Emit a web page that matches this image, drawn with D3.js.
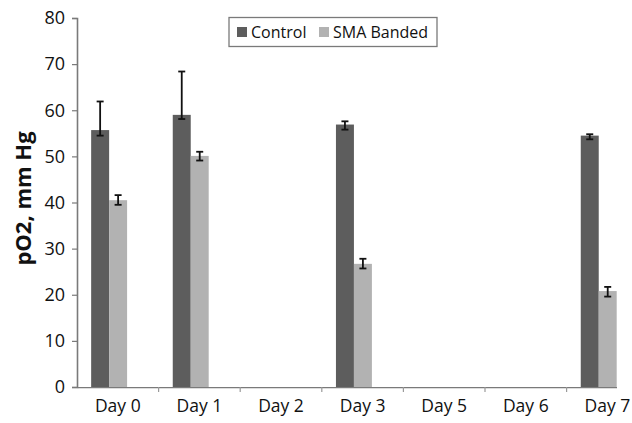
<!DOCTYPE html>
<html>
<head>
<meta charset="utf-8">
<script src="https://cdn.jsdelivr.net/npm/d3@7"></script>
<style>
  html, body { margin: 0; padding: 0; background: #fff; }
  svg { display: block; font-family: "Open Sans", sans-serif; }
</style>
</head>
<body>
<svg id="chart" width="632" height="423"></svg>
<script>
// Categories and series
const days = ["Day 0", "Day 1", "Day 2", "Day 3", "Day 5", "Day 6", "Day 7"];
const seriesNames = ["Control", "SMA Banded"];

// Mean pO2 (mm Hg); null where no measurement
const controlMean = [55.7, 59.0, null, 56.9, null, null, 54.5];
const smaMean     = [40.5, 50.1, null, 26.7, null, null, 20.8];

// Error bar ends (upper / lower)
const controlHigh = [61.9, 68.4, null, 57.6, null, null, 54.8];
const controlLow  = [54.5, 58.1, null, 55.8, null, null, 53.7];
const smaHigh     = [41.6, 51.0, null, 27.8, null, null, 21.7];
const smaLow      = [39.5, 49.1, null, 25.7, null, null, 19.6];

const yTicks = [0, 10, 20, 30, 40, 50, 60, 70, 80];
const colors = ["#5d5d5d", "#b2b2b2"];

const svg = d3.select("#chart");

const left = 77, step = 81.6, axisEnd = 617;
const x0 = d3.scaleBand().domain(days).range([left, left + step * days.length])
  .paddingInner(0).paddingOuter(0);
const x1 = d3.scaleBand().domain(seriesNames).range([0, x0.bandwidth()])
  .paddingInner(0).paddingOuter(1.27).align(0.31);
const y = d3.scaleLinear().domain([0, 80]).range([387, 18]);

const color = d3.scaleOrdinal().domain(seriesNames).range(colors);

// Y axis
const yAxis = svg.append("g")
  .attr("transform", `translate(${left},0)`)
  .call(d3.axisLeft(y).tickValues(yTicks).tickSize(5).tickPadding(7));
yAxis.select(".domain").attr("stroke", "#7a7a7a").attr("stroke-width", 1.6);
yAxis.selectAll(".tick line").attr("stroke", "#7a7a7a").attr("stroke-width", 1.2);
yAxis.selectAll(".tick text").attr("font-size", 18).attr("fill", "#111")
  .attr("font-family", "'Open Sans', sans-serif");

// X axis: labels at category centres, ticks at category boundaries
svg.append("clipPath").attr("id", "axisClip")
  .append("rect").attr("x", 0).attr("y", 0).attr("width", axisEnd).attr("height", 423);

const xAxis = svg.append("g")
  .attr("transform", `translate(0,${y(0)})`)
  .call(d3.axisBottom(x0).tickSize(0).tickPadding(13).tickSizeOuter(0));
xAxis.select(".domain").attr("stroke", "#7a7a7a").attr("stroke-width", 1.6)
  .attr("clip-path", "url(#axisClip)");
xAxis.selectAll(".tick text").attr("font-size", 17.5).attr("fill", "#111")
  .attr("font-family", "'Open Sans', sans-serif");

svg.append("g").selectAll("line")
  .data(days.slice(1))
  .join("line")
  .attr("x1", d => x0(d)).attr("x2", d => x0(d))
  .attr("y1", y(0)).attr("y2", y(0) + 5)
  .attr("stroke", "#9a9a9a").attr("stroke-width", 1.2);

// Flatten data into bar records
const records = [];
days.forEach((d, i) => {
  if (controlMean[i] != null) records.push({day: d, s: "Control", v: controlMean[i], hi: controlHigh[i], lo: controlLow[i]});
  if (smaMean[i] != null) records.push({day: d, s: "SMA Banded", v: smaMean[i], hi: smaHigh[i], lo: smaLow[i]});
});

// Bars
svg.append("g").selectAll("rect")
  .data(records)
  .join("rect")
  .attr("x", d => x0(d.day) + x1(d.s))
  .attr("y", d => y(d.v))
  .attr("width", x1.bandwidth())
  .attr("height", d => y(0) - y(d.v))
  .attr("fill", d => color(d.s));

// Error bars
const eb = svg.append("g").attr("stroke", "#111").attr("stroke-width", 1.8);
const cx = d => x0(d.day) + x1(d.s) + x1.bandwidth() / 2;
const cap = 3.5;
eb.selectAll(".stem").data(records).join("line")
  .attr("x1", cx).attr("x2", cx)
  .attr("y1", d => y(d.hi)).attr("y2", d => y(d.lo));
eb.selectAll(".capHi").data(records).join("line")
  .attr("x1", d => cx(d) - cap).attr("x2", d => cx(d) + cap)
  .attr("y1", d => y(d.hi)).attr("y2", d => y(d.hi));
eb.selectAll(".capLo").data(records).join("line")
  .attr("x1", d => cx(d) - cap).attr("x2", d => cx(d) + cap)
  .attr("y1", d => y(d.lo)).attr("y2", d => y(d.lo));

// Y axis title
svg.append("text")
  .attr("transform", `translate(31,${(y(0) + y(80)) / 2 - 4}) rotate(-90)`)
  .attr("text-anchor", "middle")
  .attr("font-size", 22).attr("font-weight", "bold").attr("fill", "#111")
  .text("pO2, mm Hg");

// Legend
const legend = svg.append("g");
legend.append("rect")
  .attr("x", 229).attr("y", 17.5).attr("width", 208).attr("height", 29)
  .attr("fill", "#fff").attr("stroke", "#7a7a7a").attr("stroke-width", 1.3);
const legendX = [237, 319];
seriesNames.forEach((s, i) => {
  legend.append("rect")
    .attr("x", legendX[i]).attr("y", 27).attr("width", 10).attr("height", 10)
    .attr("fill", color(s));
  legend.append("text")
    .attr("x", legendX[i] + 14).attr("y", 38)
    .attr("font-size", 16).attr("fill", "#111")
    .text(s);
});
</script>
</body>
</html>
